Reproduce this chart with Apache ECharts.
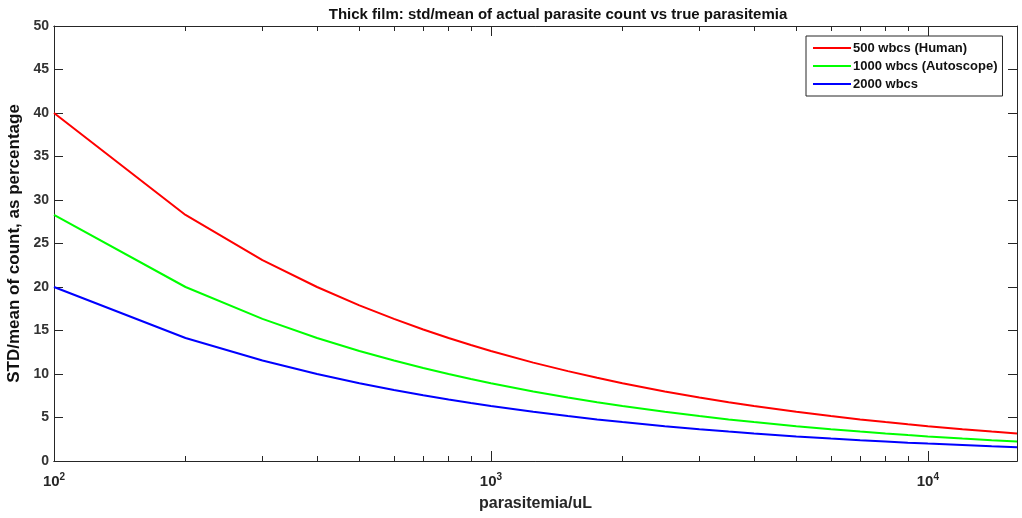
<!DOCTYPE html>
<html>
<head>
<meta charset="utf-8">
<script src="https://cdn.jsdelivr.net/npm/echarts@6/dist/echarts.min.js"></script>
<style>
  html, body { margin: 0; padding: 0; background: #fff; }
  #chart { width: 1022px; height: 518px; }
</style>
</head>
<body>
<div id="chart"></div>
<script>
// parasitemia (per uL)
const parasitemia = [100, 200, 300, 400, 500, 600, 700, 800, 900, 1000, 1250, 1500, 1750, 2000,
  2500, 3000, 3500, 4000, 5000, 6000, 7000, 8000, 9000, 10000, 12000, 14000, 16000];
// std/mean in percent
const human500 = [40.00, 28.28, 23.09, 20.00, 17.89, 16.33, 15.12, 14.14, 13.33, 12.65, 11.31, 10.33, 9.56, 8.94,
  8.00, 7.30, 6.76, 6.32, 5.66, 5.16, 4.78, 4.47, 4.22, 4.00, 3.65, 3.38, 3.16];
const auto1000 = [28.28, 20.00, 16.33, 14.14, 12.65, 11.55, 10.69, 10.00, 9.43, 8.94, 8.00, 7.30, 6.76, 6.32,
  5.66, 5.16, 4.78, 4.47, 4.00, 3.65, 3.38, 3.16, 2.98, 2.83, 2.58, 2.39, 2.24];
const wbc2000 = [20.00, 14.14, 11.55, 10.00, 8.94, 8.16, 7.56, 7.07, 6.67, 6.32, 5.66, 5.16, 4.78, 4.47,
  4.00, 3.65, 3.38, 3.16, 2.83, 2.58, 2.39, 2.24, 2.11, 2.00, 1.83, 1.69, 1.58];

const seriesNames = ['500 wbcs (Human)', '1000 wbcs (Autoscope)', '2000 wbcs'];
const majorTicks = [100, 1000, 10000];
const minorTicks = [200, 300, 400, 500, 600, 700, 800, 900, 2000, 3000, 4000, 5000, 6000, 7000, 8000, 9000];

const chart = echarts.init(document.getElementById('chart'));
const font = 'Arial, "Liberation Sans", Helvetica, sans-serif';
const axisCol = '#262626';

const toPairs = ys => parasitemia.map((x, i) => [x, ys[i]]);

// shared bits for the log x axes
function xAxisBase(pos, ticks, len, withLabels) {
  return {
    type: 'log',
    logBase: 10,
    position: pos,
    min: 100,
    max: 16000,
    axisLine: { show: true, onZero: false, lineStyle: { color: axisCol, width: 1 } },
    axisTick: { show: true, inside: true, length: len, customValues: ticks, lineStyle: { color: axisCol } },
    axisLabel: withLabels ? {
      show: true,
      customValues: majorTicks,
      margin: 11,
      formatter: v => '{b|10}{s|' + Math.round(Math.log10(v)) + '}',
      rich: {
        b: { fontFamily: font, fontSize: 15, fontWeight: 'bold', color: axisCol },
        s: { fontFamily: font, fontSize: 10, fontWeight: 'bold', color: axisCol, verticalAlign: 'bottom', padding: [0, 0, 9, 0] }
      }
    } : { show: false },
    splitLine: { show: false },
    minorTick: { show: false },
    minorSplitLine: { show: false }
  };
}

const xMain = xAxisBase('bottom', majorTicks, 10, true);
xMain.name = 'parasitemia/uL';
xMain.nameLocation = 'middle';
xMain.nameGap = 35;
xMain.nameTextStyle = { fontFamily: font, fontSize: 16, fontWeight: 'bold', color: axisCol };

function yAxisBase(pos, withLabels) {
  return {
    type: 'value',
    position: pos,
    min: 0,
    max: 50,
    interval: 5,
    axisLine: { show: true, lineStyle: { color: axisCol, width: 1 } },
    axisTick: { show: true, inside: true, length: 9, lineStyle: { color: axisCol } },
    axisLabel: withLabels ? {
      show: true,
      margin: 5,
      fontFamily: font,
      fontSize: 14,
      fontWeight: 'bold',
      color: '#333'
    } : { show: false },
    splitLine: { show: false }
  };
}

const yMain = yAxisBase('left', true);
yMain.name = 'STD/mean of count, as percentage';
yMain.nameLocation = 'middle';
yMain.nameGap = 29;
yMain.nameTextStyle = { fontFamily: font, fontSize: 17, fontWeight: 'bold', color: '#111' };

const option = {
  backgroundColor: '#ffffff',
  animation: false,
  title: {
    text: 'Thick film: std/mean of actual parasite count vs true parasitemia',
    left: 553,
    top: 2,
    textAlign: 'center',
    textStyle: { fontFamily: font, fontSize: 15, fontWeight: 'bold', color: '#111' }
  },
  legend: {
    data: seriesNames,
    orient: 'vertical',
    left: 806,
    top: 36,
    padding: [5, 5, 5, 7],
    itemWidth: 38,
    itemHeight: 2,
    itemGap: 4,
    icon: 'rect',
    borderColor: '#262626',
    borderWidth: 1,
    backgroundColor: '#fff',
    textStyle: { fontFamily: font, fontSize: 13, fontWeight: 'bold', color: '#111', lineHeight: 14, padding: [0, 0, 0, -3] }
  },
  grid: { left: 54, right: 5, top: 26, bottom: 57, outerBoundsMode: 'none' },
  xAxis: [
    xMain,
    xAxisBase('bottom', minorTicks, 5, false),
    xAxisBase('top', majorTicks, 10, false),
    xAxisBase('top', minorTicks, 5, false)
  ],
  yAxis: [yMain, yAxisBase('right', false)],
  series: [
    { name: seriesNames[0], type: 'line', data: toPairs(human500), color: '#ff0000' },
    { name: seriesNames[1], type: 'line', data: toPairs(auto1000), color: '#00ff00' },
    { name: seriesNames[2], type: 'line', data: toPairs(wbc2000), color: '#0000ff' }
  ].map(s => Object.assign(s, {
    xAxisIndex: 0,
    yAxisIndex: 0,
    showSymbol: false,
    smooth: false,
    lineStyle: { width: 2, color: s.color },
    itemStyle: { color: s.color }
  }))
};

chart.setOption(option);
</script>
</body>
</html>
